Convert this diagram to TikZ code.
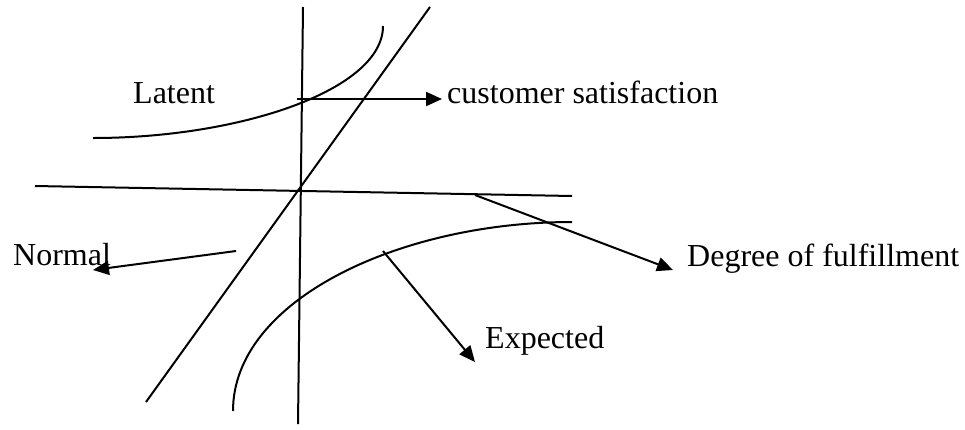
\documentclass[tikz,border=0pt]{standalone}
\usepackage{fontspec}
\setmainfont{Liberation Serif}
\usetikzlibrary{arrows.meta}
\begin{document}
\begin{tikzpicture}[x=1pt,y=-1pt,
  ln/.style={line width=2pt},
  arr/.style={line width=2pt,-{Triangle[length=16pt,width=14pt]}},
  lbl/.style={inner sep=0pt,anchor=base west,font=\fontsize{32}{38}\selectfont}]
\useasboundingbox (0,0) rectangle (965,429);
% axes
\coordinate (vt) at (303,7);
\coordinate (vb) at (298,424);
\coordinate (dt) at (430,7);
\coordinate (db) at (146,402);
\coordinate (hl) at (35,186);
\coordinate (hr) at (572,196);
\draw[ln] (vt) -- (vb);
\draw[ln] (dt) -- (db);
\draw[ln] (hl) -- (hr);
% curves
\coordinate (la) at (93,138);
\coordinate (lb) at (383,26);
\draw[ln] (la) .. controls (240,138) and (383,90) .. (lb);
\coordinate (ea) at (233,411);
\coordinate (eb) at (572,222);
\draw[ln] (ea) .. controls (233,300) and (400,222) .. (eb);
% labels
\node[lbl] (latent) at (133,103) {Latent};
\node[lbl] (cust) at (447,103) {customer satisfaction};
\node[lbl] (normal) at (13,265) {Normal};
\node[lbl] (expected) at (485,348) {Expected};
\node[lbl] (degree) at (687,266) {Degree of fulfillment};
% arrows
\coordinate (cs0) at (297,99);
\coordinate (cs1) at (442,99);
\draw[arr] (cs0) -- (cs1);
\coordinate (n0) at (236,251);
\coordinate (n1) at (93,270);
\draw[arr] (n0) -- (n1);
\coordinate (e0) at (383,251);
\coordinate (e1) at (475,362);
\draw[arr] (e0) -- (e1);
\coordinate (d0) at (475,195);
\coordinate (d1) at (673,270);
\draw[arr] (d0) -- (d1);
\end{tikzpicture}
\end{document}
